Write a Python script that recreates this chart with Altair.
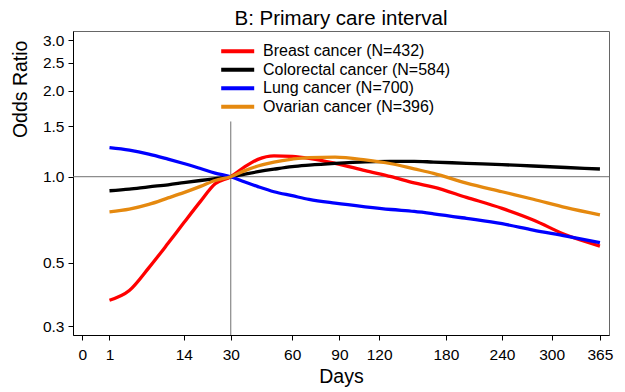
import altair as alt
import pandas as pd

days = [1, 3, 6, 10, 14, 19, 24, 30, 36, 42, 50, 60, 70, 87, 109, 130, 150, 168, 201, 240, 277, 319, 365]

breast = [0.370, 0.400, 0.480, 0.585, 0.690, 0.820, 0.945, 1.000, 1.084, 1.150, 1.183, 1.178, 1.160, 1.114, 1.050, 1.000, 0.952, 0.920, 0.847, 0.775, 0.706, 0.625, 0.572]
colorectal = [0.893, 0.905, 0.922, 0.937, 0.953, 0.970, 0.984, 1.000, 1.022, 1.041, 1.062, 1.084, 1.097, 1.113, 1.127, 1.131, 1.132, 1.125, 1.114, 1.102, 1.090, 1.077, 1.064]
lung = [1.263, 1.238, 1.200, 1.152, 1.112, 1.068, 1.030, 1.000, 0.958, 0.923, 0.886, 0.858, 0.833, 0.808, 0.785, 0.768, 0.756, 0.742, 0.715, 0.685, 0.651, 0.620, 0.588]
ovarian = [0.754, 0.770, 0.800, 0.843, 0.880, 0.925, 0.970, 1.000, 1.050, 1.090, 1.125, 1.152, 1.167, 1.170, 1.145, 1.110, 1.065, 1.028, 0.950, 0.886, 0.834, 0.779, 0.735]

series_names = ["Breast cancer (N=432)", "Colorectal cancer (N=584)", "Lung cancer (N=700)", "Ovarian cancer (N=396)"]
series_colors = ["#FF0000", "#000000", "#0000FF", "#E5890F"]

x_ticks = [0, 1, 14, 30, 60, 90, 120, 180, 240, 300, 365]
y_ticks = [0.3, 0.5, 1.0, 1.5, 2.0, 2.5, 3.0]
x_domain = [-0.1204, 377.9]
y_domain = [0.2796, 3.232]
ref_day = 30
ref_top = 1.56

rows = []
for name, vals in zip(series_names, [breast, colorectal, lung, ovarian]):
    for d, v in zip(days, vals):
        rows.append({"day": d, "or": v, "series": name})
df = pd.DataFrame(rows)

FONT = "Liberation Sans, Arial, sans-serif"

xscale = alt.Scale(type="sqrt", domain=x_domain, nice=False, zero=False)
yscale = alt.Scale(type="log", domain=y_domain, nice=False)

lines = alt.Chart(df).mark_line(strokeWidth=3.3, interpolate="monotone").encode(
    x=alt.X("day:Q", scale=xscale,
            axis=alt.Axis(values=x_ticks, title="Days", grid=False, format="d",
                          labelFontSize=15.5, titleFontSize=19.5, tickSize=5,
                          labelPadding=7, titleBaseline="alphabetic", titleY=47.7,
                          labelFlush=False)),
    y=alt.Y("or:Q", scale=yscale,
            axis=alt.Axis(values=y_ticks, title="Odds Ratio", grid=False, format=".1f",
                          labelFontSize=15.5, titleFontSize=19.5, tickSize=5,
                          labelPadding=4, titleBaseline="alphabetic", titleX=-46.6,
                          titleY=57.8, titleAlign="center", titleAngle=270)),
    color=alt.Color("series:N", sort=series_names,
                    scale=alt.Scale(domain=series_names, range=series_colors),
                    legend=alt.Legend(title=None, orient="none", legendX=156.7, legendY=12.2,
                                      symbolType="M-3,0L3,0", symbolStrokeWidth=4,
                                      symbolSize=121, labelFontSize=16, labelOffset=17.3,
                                      labelLimit=0, rowPadding=2.5, padding=0,
                                      labelColor="black")),
)

hrule = alt.Chart(pd.DataFrame({"v": [1.0]})).mark_rule(color="#707070", strokeWidth=1).encode(
    y=alt.Y("v:Q", scale=yscale)
)
vrule = alt.Chart(pd.DataFrame({"d": [ref_day], "top": [ref_top], "bot": [y_domain[0]]})).mark_rule(
    color="#707070", strokeWidth=1).encode(
    x=alt.X("d:Q", scale=xscale),
    y=alt.Y("top:Q", scale=yscale),
    y2="bot:Q",
)

chart = alt.layer(hrule, vrule, lines).properties(
    width=536, height=304,
    title=alt.TitleParams("B: Primary care interval", fontSize=20.5, fontWeight="normal",
                          font=FONT, anchor="middle", offset=2, color="black"),
    autosize=alt.AutoSizeParams(type="none"),
    padding={"left": 65, "top": 23, "right": 8, "bottom": 53},
).configure(font=FONT).configure_view(stroke="#666666", strokeWidth=1).configure_axis(
    domainColor="black", tickColor="black", labelColor="black", titleColor="black",
    labelFont=FONT, titleFont=FONT, titleFontWeight="normal", domainWidth=1, tickWidth=1
).configure_legend(labelFont=FONT)

chart.save("out.html", embed_options={"renderer": "svg", "actions": False})
